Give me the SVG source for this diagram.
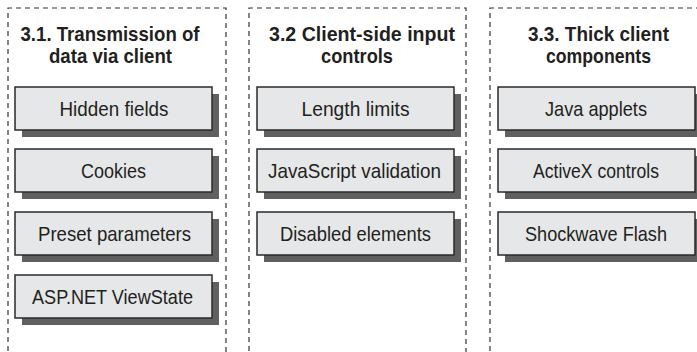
<svg xmlns="http://www.w3.org/2000/svg" width="697" height="352" viewBox="0 0 697 352">
<style>
.panel{fill:none;stroke:#333;stroke-width:1.2;stroke-dasharray:5,4}
.shadow{fill:#606060}
.box{fill:#e6e7e8;stroke:#2a2a2a;stroke-width:1.5}
.title{font-family:"Liberation Sans",Arial,sans-serif;font-weight:bold;font-size:21px;fill:#231f20;text-anchor:middle}
.label{font-family:"Liberation Sans",Arial,sans-serif;font-size:21px;fill:#231f20;text-anchor:middle}
</style>
<rect width="697" height="352" fill="#fff"/>
<g id="panel1">
<path class="panel" d="M8,360 V8 H226 V360"/>
<text class="title" x="110" y="41" textLength="179" lengthAdjust="spacingAndGlyphs">3.1. Transmission of</text>
<text class="title" x="110.5" y="63" textLength="123" lengthAdjust="spacingAndGlyphs">data via client</text>
</g>
<g id="panel2">
<path class="panel" d="M249,360 V8 H466 V360"/>
<text class="title" x="362" y="41" textLength="186" lengthAdjust="spacingAndGlyphs">3.2 Client-side input</text>
<text class="title" x="357" y="63" textLength="72" lengthAdjust="spacingAndGlyphs">controls</text>
</g>
<g id="panel3">
<path class="panel" d="M490,360 V8 H708 V360"/>
<text class="title" x="598.5" y="41" textLength="141" lengthAdjust="spacingAndGlyphs">3.3. Thick client</text>
<text class="title" x="598.5" y="63" textLength="105" lengthAdjust="spacingAndGlyphs">components</text>
</g>
<g id="hidden-fields"><rect class="shadow" x="22" y="94" width="197" height="43"/><rect class="box" x="15" y="87" width="197" height="43"/><text class="label" x="114" y="116" textLength="109" lengthAdjust="spacingAndGlyphs">Hidden fields</text></g>
<g id="cookies"><rect class="shadow" x="22" y="156" width="197" height="43"/><rect class="box" x="15" y="149" width="197" height="43"/><text class="label" x="113.5" y="178" textLength="65" lengthAdjust="spacingAndGlyphs">Cookies</text></g>
<g id="preset-parameters"><rect class="shadow" x="22" y="219" width="197" height="43"/><rect class="box" x="15" y="212" width="197" height="43"/><text class="label" x="114.5" y="241" textLength="153" lengthAdjust="spacingAndGlyphs">Preset parameters</text></g>
<g id="aspnet-viewstate"><rect class="shadow" x="22" y="282" width="197" height="43"/><rect class="box" x="15" y="275" width="197" height="43"/><text class="label" x="112.5" y="304" textLength="161" lengthAdjust="spacingAndGlyphs">ASP.NET ViewState</text></g>
<g id="length-limits"><rect class="shadow" x="264" y="94" width="197" height="43"/><rect class="box" x="257" y="87" width="197" height="43"/><text class="label" x="355.5" y="116" textLength="108" lengthAdjust="spacingAndGlyphs">Length limits</text></g>
<g id="javascript-validation"><rect class="shadow" x="264" y="156" width="197" height="43"/><rect class="box" x="257" y="149" width="197" height="43"/><text class="label" x="354.5" y="178" textLength="173" lengthAdjust="spacingAndGlyphs">JavaScript validation</text></g>
<g id="disabled-elements"><rect class="shadow" x="264" y="219" width="197" height="43"/><rect class="box" x="257" y="212" width="197" height="43"/><text class="label" x="355.5" y="241" textLength="151" lengthAdjust="spacingAndGlyphs">Disabled elements</text></g>
<g id="java-applets"><rect class="shadow" x="505" y="94" width="197" height="43"/><rect class="box" x="498" y="87" width="197" height="43"/><text class="label" x="596" y="116" textLength="102" lengthAdjust="spacingAndGlyphs">Java applets</text></g>
<g id="activex-controls"><rect class="shadow" x="505" y="156" width="197" height="43"/><rect class="box" x="498" y="149" width="197" height="43"/><text class="label" x="596" y="178" textLength="126" lengthAdjust="spacingAndGlyphs">ActiveX controls</text></g>
<g id="shockwave-flash"><rect class="shadow" x="505" y="219" width="197" height="43"/><rect class="box" x="498" y="212" width="197" height="43"/><text class="label" x="596" y="241" textLength="142" lengthAdjust="spacingAndGlyphs">Shockwave Flash</text></g>
<g id="connectors"/>
</svg>
